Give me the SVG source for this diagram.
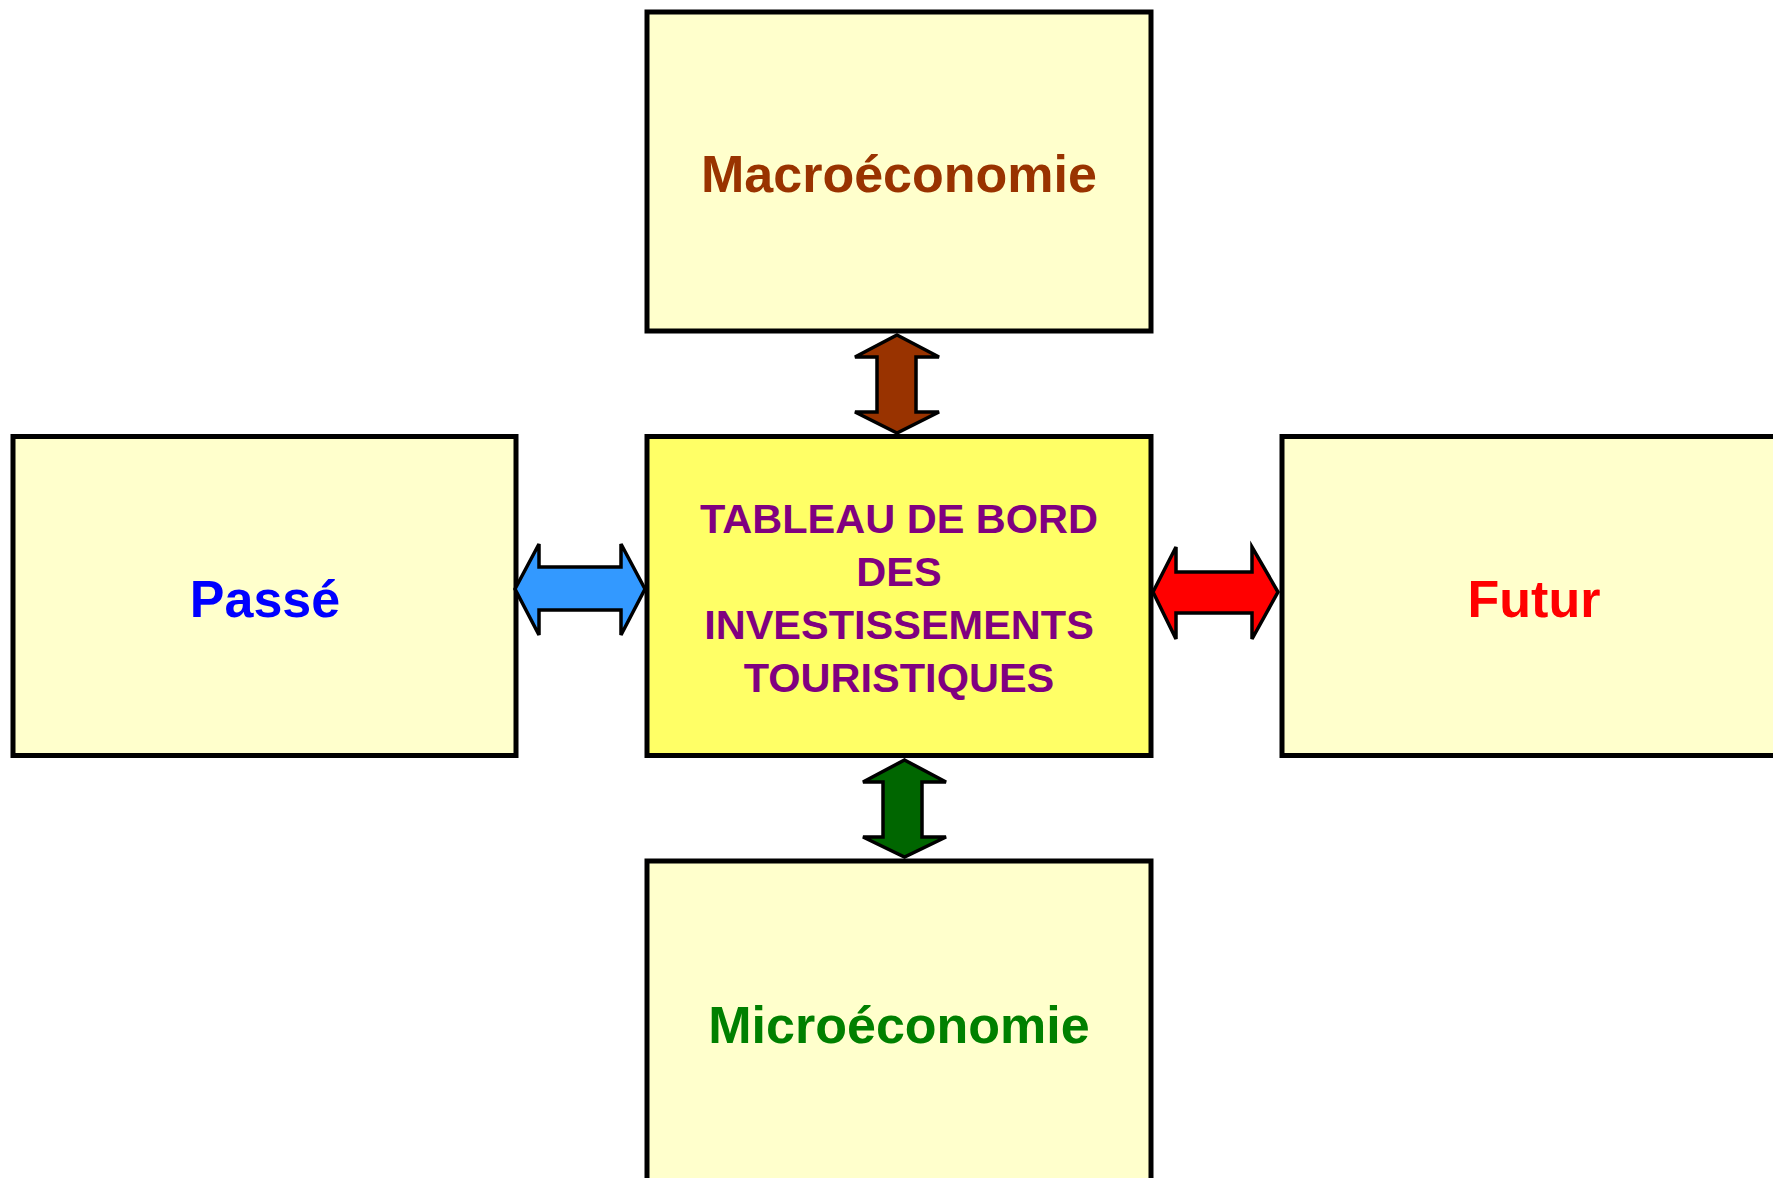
<svg xmlns="http://www.w3.org/2000/svg" width="1773" height="1178" viewBox="0 0 1773 1178">
<style>
.box{fill:#FFFFCC;stroke:#000;stroke-width:5}
.core{fill:#FFFF66;stroke:#000;stroke-width:5}
.lbl{font-family:"Liberation Sans",Arial,sans-serif;font-weight:bold;font-size:52px;text-anchor:middle}
.ctr{font-family:"Liberation Sans",Arial,sans-serif;font-weight:bold;font-size:41.5px;text-anchor:middle;fill:#800080}
.arr{stroke:#000;stroke-width:3.5;stroke-linejoin:miter}
</style>
<rect width="1773" height="1178" fill="#fff"/>
<g id="macro">
<rect class="box" x="647" y="12" width="504" height="319"/>
<text class="lbl" x="899" y="192" fill="#993300">Macroéconomie</text>
</g>
<g id="passe">
<rect class="box" x="13" y="436.5" width="503" height="319"/>
<text class="lbl" x="265" y="617" fill="#0000FF">Passé</text>
</g>
<g id="tableau">
<rect class="core" x="647" y="436.5" width="504" height="319"/>
<text class="ctr" x="899" y="533">TABLEAU DE BORD</text>
<text class="ctr" x="899" y="586">DES</text>
<text class="ctr" x="899" y="639">INVESTISSEMENTS</text>
<text class="ctr" x="899" y="692">TOURISTIQUES</text>
</g>
<g id="futur">
<rect class="box" x="1282" y="436.5" width="504" height="319"/>
<text class="lbl" x="1534" y="617" fill="#FF0000">Futur</text>
</g>
<g id="micro">
<rect class="box" x="647" y="861" width="504" height="330"/>
<text class="lbl" x="899" y="1042.5" fill="#008000">Microéconomie</text>
</g>
<g id="connectors">
<path class="arr" fill="#993300" d="M897,335 L939,357 L916,357 L916,412 L939,412 L897,433 L855,412 L877,412 L877,357 L855,357 Z"/>
<path class="arr" fill="#006600" d="M904.5,760 L946,782 L922,782 L922,837 L946,837 L904.5,857 L863,837 L883,837 L883,782 L863,782 Z"/>
<path class="arr" fill="#3399FF" d="M515,589 L539,544 L539,567 L621,567 L621,544 L645,589 L621,635 L621,610 L539,610 L539,635 Z"/>
<path class="arr" fill="#FF0000" d="M1153,592 L1176,547 L1176,572 L1252,572 L1252,547 L1278,592 L1252,639 L1252,613 L1176,613 L1176,639 Z"/>
</g>
</svg>
